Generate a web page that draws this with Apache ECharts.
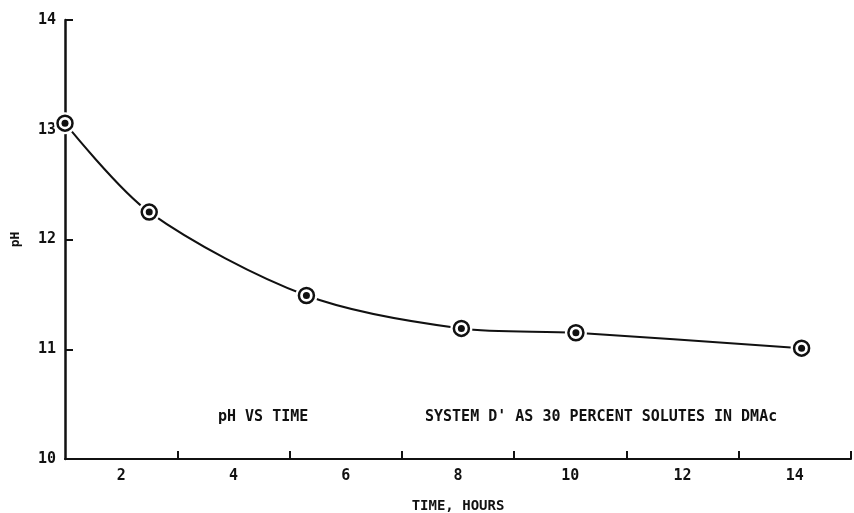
<!DOCTYPE html>
<html>
<head>
<meta charset="utf-8">
<script src="https://cdn.jsdelivr.net/npm/echarts@6/dist/echarts.min.js"></script>
<style>
  html, body { margin: 0; padding: 0; background: #fff; }
  #chart { width: 854px; height: 513px; }
</style>
</head>
<body>
<div id="chart"></div>
<script>
// values
var timeHours = [1.0, 2.5, 5.3, 8.06, 10.1, 14.12];
var phValues = [13.06, 12.25, 11.49, 11.19, 11.15, 11.01];
var xLabelValues = [2, 4, 6, 8, 10, 12, 14];
var xTickValues = [3, 5, 7, 9, 11, 13, 15];
var yTickValues = [10, 11, 12, 13, 14];

var ink = '#111';
var font = 'DejaVu Sans Mono';

var points = timeHours.map(function (t, i) { return [t, phValues[i]]; });

var labelStyle = { color: ink, fontFamily: font, fontWeight: 'bold', fontSize: 15 };

var option = {
  backgroundColor: '#fff',
  animation: false,
  grid: { left: 65, right: 3, top: 20, bottom: 54, containLabel: false, outerBoundsMode: 'none' },
  xAxis: {
    type: 'value',
    min: 1,
    max: 15,
    name: 'TIME, HOURS',
    nameLocation: 'middle',
    nameGap: 40,
    nameTextStyle: { color: ink, fontFamily: font, fontWeight: 'bold', fontSize: 14 },
    axisLine: { lineStyle: { color: ink, width: 2 } },
    axisTick: { inside: true, length: 8, customValues: xTickValues, lineStyle: { color: ink, width: 2 } },
    axisLabel: Object.assign({ margin: 10, customValues: xLabelValues }, labelStyle),
    splitLine: { show: false }
  },
  yAxis: {
    type: 'value',
    min: 10,
    max: 14,
    name: 'pH',
    nameLocation: 'middle',
    nameGap: 43,
    nameTextStyle: { color: ink, fontFamily: font, fontWeight: 'bold', fontSize: 13 },
    axisLine: { show: true, lineStyle: { color: ink, width: 2.5 } },
    axisTick: { show: true, inside: true, length: 8, customValues: yTickValues, lineStyle: { color: ink, width: 2 } },
    axisLabel: Object.assign({ margin: 9, customValues: yTickValues }, labelStyle),
    splitLine: { show: false }
  },
  graphic: [
    {
      type: 'text', left: 218, top: 410,
      style: { text: 'pH VS TIME', fill: ink, font: 'bold 15px "DejaVu Sans Mono"' }
    },
    {
      type: 'text', left: 425, top: 410,
      style: { text: "SYSTEM D' AS 30 PERCENT SOLUTES IN DMAc", fill: ink, font: 'bold 15px "DejaVu Sans Mono"' }
    }
  ],
  series: [
    { // fitted curve
      type: 'line',
      data: points,
      smooth: 0.3,
      symbol: 'none',
      lineStyle: { color: ink, width: 2 },
      z: 2
    },
    { // white gap round each point
      type: 'scatter',
      data: points,
      symbol: 'circle',
      symbolSize: 22,
      itemStyle: { color: '#fff', opacity: 1 },
      z: 3
    },
    { // ring
      type: 'scatter',
      data: points,
      symbol: 'circle',
      symbolSize: 15,
      itemStyle: { color: '#fff', borderColor: ink, borderWidth: 2.5, opacity: 1 },
      z: 4
    },
    { // dot
      type: 'scatter',
      data: points,
      symbol: 'circle',
      symbolSize: 7,
      itemStyle: { color: ink, opacity: 1 },
      z: 5
    }
  ]
};

var myChart = echarts.init(document.getElementById('chart'));
myChart.setOption(option);
</script>
</body>
</html>
